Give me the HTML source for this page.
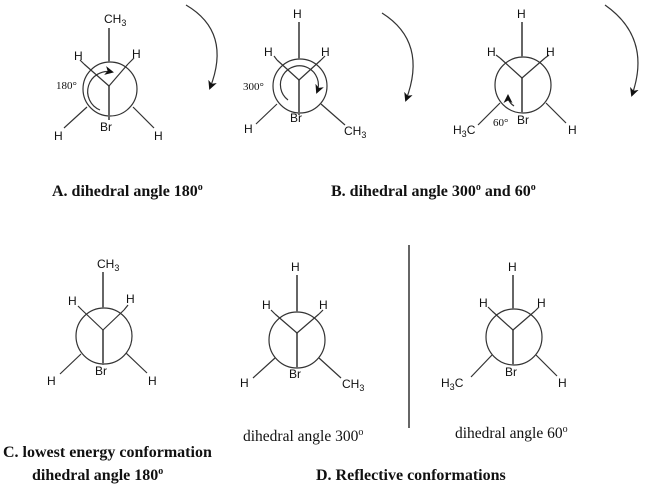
<!DOCTYPE html>
<html><head><meta charset="utf-8"><style>
body{margin:0;background:#fff}
svg{display:block}
.m{font-family:"Liberation Sans",sans-serif;font-size:12px;fill:#111}
.s{font-family:"Liberation Serif",serif;font-size:11px;fill:#111}
.b{font-family:"Liberation Serif",serif;font-size:16px;font-weight:bold;fill:#111}
.r{font-family:"Liberation Serif",serif;font-size:15.5px;fill:#111}
line,path.c,circle{stroke:#333;stroke-width:1.2;fill:none}
.g{stroke:#666;stroke-width:2}
</style></head><body>
<svg width="649" height="487" viewBox="0 0 649 487">
<defs><marker id="ah" markerWidth="9" markerHeight="9" refX="7" refY="4.5" orient="auto" markerUnits="userSpaceOnUse"><path d="M0,0 L9,4.5 L0,9 L2.5,4.5z" style="fill:#111;stroke:none"/></marker></defs>

<!-- A top -->
<circle cx="110" cy="89" r="27"/>
<line class="g" x1="109" y1="28" x2="109" y2="62"/>
<line class="g" x1="109" y1="86" x2="109" y2="120"/>
<line x1="109" y1="86" x2="84" y2="64"/><line x1="109" y1="86" x2="128" y2="64"/>
<line x1="84" y1="64" x2="80" y2="60"/><line x1="128" y1="64" x2="134" y2="58"/>
<line x1="87" y1="107" x2="64" y2="128"/><line x1="133" y1="107" x2="154" y2="128"/>
<text class="m" x="104" y="23">CH<tspan font-size="9" dy="3">3</tspan></text>
<text class="m" x="74" y="60">H</text><text class="m" x="132" y="58">H</text>
<text class="m" x="100" y="131">Br</text>
<text class="m" x="54" y="140">H</text><text class="m" x="154" y="140">H</text>
<text class="s" x="56" y="89">180°</text>
<path class="c" d="M100,110 A20,20 0 0 1 112,72" marker-end="url(#ah)"/>
<path class="c" d="M186,5 Q232,32 210,88" marker-end="url(#ah)"/>

<!-- B top -->
<circle cx="300" cy="86" r="27"/>
<line class="g" x1="299" y1="22" x2="299" y2="59"/>
<line class="g" x1="299" y1="80" x2="299" y2="115"/>
<line x1="299" y1="80" x2="277" y2="60"/><line x1="299" y1="80" x2="321" y2="60"/>
<line x1="277" y1="60" x2="274" y2="56"/><line x1="321" y1="60" x2="325" y2="56"/>
<line x1="277" y1="104" x2="256" y2="124"/><line x1="321" y1="104" x2="345" y2="125"/>
<text class="m" x="293" y="18">H</text>
<text class="m" x="264" y="56">H</text><text class="m" x="321" y="56">H</text>
<text class="m" x="290" y="122">Br</text>
<text class="m" x="244" y="133">H</text>
<text class="m" x="344" y="135">CH<tspan font-size="9" dy="3">3</tspan></text>
<text class="s" x="243" y="90">300°</text>
<path class="c" d="M288,100 A19,19 0 1 1 317,92" marker-end="url(#ah)"/>
<path class="c" d="M382,13 Q428,42 406,100" marker-end="url(#ah)"/>

<!-- C top -->
<circle cx="523" cy="85" r="28"/>
<line class="g" x1="522" y1="22" x2="522" y2="57"/>
<line class="g" x1="522" y1="78" x2="522" y2="113"/>
<line x1="522" y1="78" x2="500" y2="58"/><line x1="522" y1="78" x2="545" y2="58"/>
<line x1="500" y1="58" x2="496" y2="55"/><line x1="545" y1="58" x2="549" y2="55"/>
<line x1="500" y1="103" x2="478" y2="125"/><line x1="546" y1="103" x2="566" y2="123"/>
<text class="m" x="517" y="18">H</text>
<text class="m" x="487" y="56">H</text><text class="m" x="546" y="56">H</text>
<text class="m" x="517" y="124">Br</text>
<text class="m" x="453" y="134">H<tspan font-size="9" dy="3">3</tspan><tspan dy="-3">C</tspan></text>
<text class="m" x="568" y="134">H</text>
<text class="s" x="493" y="126" font-size="10">60°</text>
<path class="c" d="M514,106 Q508,102 508,96" marker-end="url(#ah)"/>
<path class="c" d="M605,5 Q652,38 632,95" marker-end="url(#ah)"/>

<text class="b" x="52" y="196">A. dihedral angle 180<tspan font-size="10" dy="-6">o</tspan></text>
<text class="b" x="331" y="196">B. dihedral angle 300<tspan font-size="10" dy="-6">o</tspan><tspan dy="6"> and 60</tspan><tspan font-size="10" dy="-6">o</tspan></text>

<!-- C bottom -->
<circle cx="104" cy="336" r="28"/>
<line class="g" x1="103" y1="272" x2="103" y2="308"/>
<line class="g" x1="103" y1="330" x2="103" y2="365"/>
<line x1="103" y1="330" x2="82" y2="310"/><line x1="103" y1="330" x2="124" y2="310"/>
<line x1="82" y1="310" x2="78" y2="306"/><line x1="124" y1="310" x2="128" y2="305"/>
<line x1="81" y1="354" x2="60" y2="374"/><line x1="126" y1="353" x2="147" y2="373"/>
<text class="m" x="97" y="268">CH<tspan font-size="9" dy="3">3</tspan></text>
<text class="m" x="68" y="305">H</text><text class="m" x="126" y="303">H</text>
<text class="m" x="95" y="375">Br</text>
<text class="m" x="47" y="385">H</text><text class="m" x="148" y="385">H</text>

<!-- D1 -->
<circle cx="297" cy="340" r="28"/>
<line class="g" x1="297" y1="275" x2="297" y2="312"/>
<line class="g" x1="297" y1="333" x2="297" y2="368"/>
<line x1="297" y1="333" x2="275" y2="314"/><line x1="297" y1="333" x2="319" y2="314"/>
<line x1="275" y1="314" x2="271" y2="310"/><line x1="319" y1="314" x2="323" y2="310"/>
<line x1="275" y1="358" x2="253" y2="378"/><line x1="319" y1="358" x2="341" y2="378"/>
<text class="m" x="291" y="271">H</text>
<text class="m" x="262" y="309">H</text><text class="m" x="319" y="309">H</text>
<text class="m" x="289" y="378">Br</text>
<text class="m" x="240" y="387">H</text>
<text class="m" x="342" y="388">CH<tspan font-size="9" dy="3">3</tspan></text>
<text class="r" x="243" y="441">dihedral angle 300<tspan font-size="10" dy="-6">o</tspan></text>

<line class="g" x1="409" y1="245" x2="409" y2="428"/>

<!-- D2 -->
<circle cx="514" cy="337" r="28"/>
<line class="g" x1="513" y1="275" x2="513" y2="309"/>
<line class="g" x1="513" y1="330" x2="513" y2="365"/>
<line x1="513" y1="330" x2="492" y2="311"/><line x1="513" y1="330" x2="535" y2="311"/>
<line x1="492" y1="311" x2="488" y2="307"/><line x1="535" y1="311" x2="539" y2="307"/>
<line x1="492" y1="355" x2="471" y2="377"/><line x1="536" y1="355" x2="557" y2="376"/>
<text class="m" x="508" y="271">H</text>
<text class="m" x="479" y="307">H</text><text class="m" x="537" y="307">H</text>
<text class="m" x="505" y="376">Br</text>
<text class="m" x="441" y="387">H<tspan font-size="9" dy="3">3</tspan><tspan dy="-3">C</tspan></text>
<text class="m" x="558" y="387">H</text>
<text class="r" x="455" y="438">dihedral angle 60<tspan font-size="10" dy="-6">o</tspan></text>

<text class="b" x="3" y="457">C. lowest energy conformation</text>
<text class="b" x="32" y="480">dihedral angle 180<tspan font-size="10" dy="-6">o</tspan></text>
<text class="b" x="316" y="480">D. Reflective conformations</text>
</svg>
</body></html>
